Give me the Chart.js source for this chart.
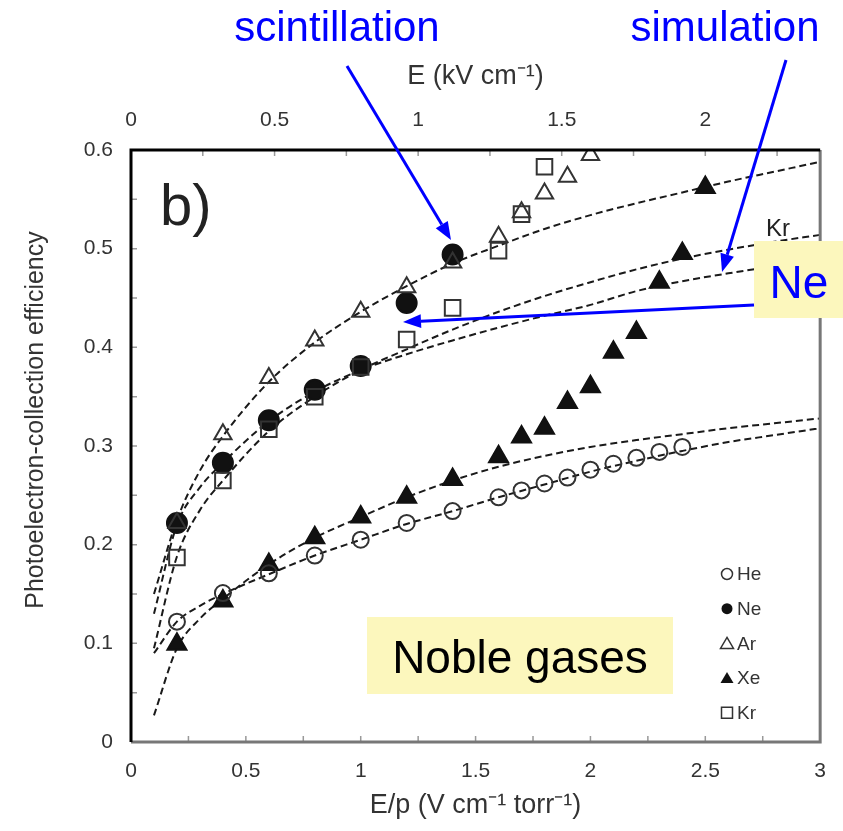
<!DOCTYPE html>
<html>
<head>
<meta charset="utf-8">
<script src="https://cdn.jsdelivr.net/npm/chart.js@4.4.0/dist/chart.umd.min.js"></script>
<style>
  body { margin: 0; background: #fff; }
  #wrap { width: 843px; height: 831px; }
</style>
</head>
<body>
<div id="wrap"><canvas id="myChart"></canvas></div>
<script>
// measured points (E/p in V cm-1 torr-1, efficiency)
const heX = [0.2, 0.4, 0.6, 0.8, 1.0, 1.2, 1.4, 1.6, 1.7, 1.8, 1.9, 2.0, 2.1, 2.2, 2.3, 2.4]
const heY = [0.122, 0.151, 0.171, 0.189, 0.205, 0.222, 0.234, 0.248, 0.255, 0.262, 0.268, 0.276, 0.282, 0.288, 0.294, 0.299]

const neX = [0.2, 0.4, 0.6, 0.8, 1.0, 1.2, 1.4]
const neY = [0.222, 0.283, 0.326, 0.357, 0.381, 0.445, 0.494]

const arX = [0.2, 0.4, 0.6, 0.8, 1.0, 1.2, 1.4, 1.6, 1.7, 1.8, 1.9, 2.0]
const arY = [0.222, 0.312, 0.369, 0.407, 0.436, 0.461, 0.486, 0.512, 0.537, 0.556, 0.573, 0.595]

const xeX = [0.2, 0.4, 0.6, 0.8, 1.0, 1.2, 1.4, 1.6, 1.7, 1.8, 1.9, 2.0, 2.1, 2.2, 2.3, 2.4, 2.5]
const xeY = [0.099, 0.143, 0.180, 0.207, 0.228, 0.248, 0.266, 0.289, 0.309, 0.318, 0.344, 0.360, 0.395, 0.415, 0.466, 0.495, 0.562]

const krX = [0.2, 0.4, 0.6, 0.8, 1.0, 1.2, 1.4, 1.6, 1.7, 1.8]
const krY = [0.187, 0.265, 0.317, 0.350, 0.380, 0.408, 0.440, 0.498, 0.535, 0.583]

// simulation curves (dashed)
const simX  = [0.1, 0.2, 0.3, 0.4, 0.6, 0.8, 1.0, 1.2, 1.4, 1.6, 1.8, 2.0, 2.2, 2.4, 2.6, 2.8, 3.0]
const arSim = [0.15, 0.225, 0.275, 0.31, 0.365, 0.405, 0.436, 0.462, 0.485, 0.503, 0.52, 0.534, 0.546, 0.557, 0.568, 0.578, 0.588]
const krSim = [0.095, 0.188, 0.235, 0.265, 0.315, 0.35, 0.377, 0.398, 0.418, 0.436, 0.452, 0.466, 0.479, 0.49, 0.499, 0.507, 0.514]
const neSim = [0.13, 0.22, 0.258, 0.283, 0.325, 0.355, 0.377, 0.393, 0.407, 0.42, 0.432, 0.443, 0.457, 0.467, 0.475, 0.482, 0.488]
const heSim = [0.09, 0.122, 0.138, 0.15, 0.17, 0.189, 0.205, 0.221, 0.234, 0.248, 0.261, 0.274, 0.285, 0.295, 0.304, 0.311, 0.318]
const xeSim = [0.027, 0.095, 0.125, 0.145, 0.18, 0.207, 0.228, 0.248, 0.265, 0.279, 0.29, 0.299, 0.306, 0.312, 0.318, 0.323, 0.328]

// axis ticks
const bottomTicks = [0, 0.5, 1, 1.5, 2, 2.5, 3]
const topTicks = [0, 0.5, 1, 1.5, 2]
const yTicks = [0, 0.1, 0.2, 0.3, 0.4, 0.5, 0.6]

const FONT = "'Liberation Sans', Arial, sans-serif"
const BLUE = '#0000ff'
const YELLOW = '#fcf7bd'

const pts = (xs, ys) => xs.map((x, i) => ({ x: x, y: ys[i] }))

const curve = (label, ys) => ({
    label: label,
    data: pts(simX, ys),
    showLine: true,
    pointRadius: 0,
    borderColor: '#1a1a1a',
    borderWidth: 2,
    borderDash: [7, 4],
    cubicInterpolationMode: 'monotone',
    order: 1
})

const markers = (label, xs, ys, style, radius, filled) => ({
    label: label,
    data: pts(xs, ys),
    showLine: false,
    pointStyle: style,
    pointRadius: radius,
    pointBackgroundColor: filled ? '#111' : 'rgba(0,0,0,0)',
    pointBorderColor: filled ? '#111' : '#333',
    pointBorderWidth: 2,
    order: 0
})

const arrow = (ctx, x1, y1, x2, y2) => {
    const ang = Math.atan2(y2 - y1, x2 - x1)
    const len = 18, half = 7
    const bx = x2 - len * Math.cos(ang), by = y2 - len * Math.sin(ang)
    ctx.beginPath()
    ctx.moveTo(x1, y1)
    ctx.lineTo(bx, by)
    ctx.stroke()
    ctx.beginPath()
    ctx.moveTo(x2, y2)
    ctx.lineTo(bx + half * Math.sin(ang), by - half * Math.cos(ang))
    ctx.lineTo(bx - half * Math.sin(ang), by + half * Math.cos(ang))
    ctx.closePath()
    ctx.fill()
}

const legendItems = [
    ['He', 'circle', false],
    ['Ne', 'circle', true],
    ['Ar', 'triangle', false],
    ['Xe', 'triangle', true],
    ['Kr', 'rect', false]
]

const decor = {
    id: 'decor',
    afterDraw(chart) {
        const { ctx, chartArea: a, scales } = chart
        ctx.save()

        // inward minor ticks
        ctx.strokeStyle = '#999'
        ctx.lineWidth = 1.5
        ctx.beginPath()
        for (let i = 1; i < 12; i++) {
            const px = scales.x.getPixelForValue(i * 0.25)
            ctx.moveTo(px, a.bottom); ctx.lineTo(px, a.bottom - 6)
        }
        for (let i = 1; i < 10; i++) {
            const px = scales.xTop.getPixelForValue(i * 0.25)
            ctx.moveTo(px, a.top); ctx.lineTo(px, a.top + 6)
        }
        for (let i = 1; i < 12; i++) {
            const py = scales.y.getPixelForValue(i * 0.05)
            ctx.moveTo(a.left, py); ctx.lineTo(a.left + 6, py)
        }
        ctx.stroke()

        // frame
        ctx.lineWidth = 3
        ctx.strokeStyle = '#777'
        ctx.beginPath()
        ctx.moveTo(a.right, a.top); ctx.lineTo(a.right, a.bottom); ctx.lineTo(a.left, a.bottom)
        ctx.stroke()
        ctx.strokeStyle = '#000'
        ctx.beginPath()
        ctx.moveTo(a.left, a.bottom); ctx.lineTo(a.left, a.top); ctx.lineTo(a.right, a.top)
        ctx.stroke()

        // y title
        ctx.save()
        ctx.translate(36, 420)
        ctx.rotate(-Math.PI / 2)
        ctx.fillStyle = '#333'
        ctx.font = '25px ' + FONT
        ctx.textAlign = 'center'
        ctx.textBaseline = 'middle'
        ctx.fillText('Photoelectron-collection efficiency', 0, 0)
        ctx.restore()

        // legend
        ctx.font = '19px ' + FONT
        ctx.textAlign = 'left'
        ctx.textBaseline = 'middle'
        legendItems.forEach((it, i) => {
            const cx = 727, cy = 574 + i * 34.7
            ctx.fillStyle = '#111'
            ctx.strokeStyle = '#333'
            ctx.lineWidth = 1.5
            ctx.beginPath()
            if (it[1] === 'circle') ctx.arc(cx, cy, 5.5, 0, Math.PI * 2)
            else if (it[1] === 'triangle') { ctx.moveTo(cx, cy - 6); ctx.lineTo(cx + 6.5, cy + 5); ctx.lineTo(cx - 6.5, cy + 5); ctx.closePath() }
            else ctx.rect(cx - 5.5, cy - 5.5, 11, 11)
            if (it[2]) ctx.fill()
            else ctx.stroke()
            ctx.fillStyle = '#333'
            ctx.fillText(it[0], cx + 10, cy + 1)
        })

        // b) and Kr labels
        ctx.fillStyle = '#222'
        ctx.textBaseline = 'alphabetic'
        ctx.font = '58px ' + FONT
        ctx.fillText('b)', 160, 225)
        ctx.font = '24px ' + FONT
        ctx.fillText('Kr', 766, 236)

        // yellow boxes
        ctx.fillStyle = YELLOW
        ctx.fillRect(754, 241, 89, 77)
        ctx.fillRect(367, 617, 306, 77)
        ctx.textAlign = 'center'
        ctx.font = '46px ' + FONT
        ctx.fillStyle = BLUE
        ctx.fillText('Ne', 799, 298)
        ctx.fillStyle = '#000'
        ctx.fillText('Noble gases', 520, 673)

        // blue callouts
        ctx.font = '42px ' + FONT
        ctx.fillStyle = BLUE
        ctx.fillText('scintillation', 337, 41)
        ctx.fillText('simulation', 725, 41)
        ctx.strokeStyle = BLUE
        ctx.lineWidth = 3
        arrow(ctx, 347, 66, 451, 240)
        arrow(ctx, 786, 60, 722, 272)
        arrow(ctx, 754, 305, 403, 322)

        ctx.restore()
    }
}

const data = {
    datasets: [
        curve('Ar sim', arSim),
        curve('Kr sim', krSim),
        curve('Ne sim', neSim),
        curve('He sim', heSim),
        curve('Xe sim', xeSim),
        markers('He', heX, heY, 'circle', 8, false),
        markers('Kr', krX, krY, 'rect', 11, false),
        markers('Ar', arX, arY, 'triangle', 10, false),
        markers('Xe', xeX, xeY, 'triangle', 11, true),
        markers('Ne', neX, neY, 'circle', 10, true)
    ]
}

const tickFont = { family: FONT, size: 21 }
const titleFont = { family: FONT, size: 27 }
const plain = v => String(v)

const config = {
    type: 'scatter',
    data: data,
    options: {
        responsive: true,
        maintainAspectRatio: false,
        animation: false,
        events: [],
        layout: { padding: { left: 0, right: 21, top: 0, bottom: 0 } },
        plugins: { legend: { display: false }, tooltip: { enabled: false } },
        scales: {
            x: {
                type: 'linear', position: 'bottom', min: 0, max: 3,
                afterBuildTicks: s => { s.ticks = bottomTicks.map(v => ({ value: v })) },
                ticks: { font: tickFont, color: '#333', padding: 17, callback: plain },
                grid: { display: false, drawTicks: false },
                border: { display: false },
                title: { display: true, text: 'E/p (V cm⁻¹ torr⁻¹)', font: titleFont, color: '#333', padding: { top: 0, bottom: 9 } },
                afterFit: s => { s.height = 89 }
            },
            xTop: {
                type: 'linear', position: 'top', min: 0, max: 2.4,
                afterBuildTicks: s => { s.ticks = topTicks.map(v => ({ value: v })) },
                ticks: { font: tickFont, color: '#333', padding: 17, callback: plain },
                grid: { display: false, drawTicks: false },
                border: { display: false },
                title: { display: true, text: 'E (kV cm⁻¹)', font: titleFont, color: '#333', padding: { top: 60, bottom: 0 } },
                afterFit: s => { s.height = 150 }
            },
            y: {
                type: 'linear', position: 'left', min: 0, max: 0.6,
                afterBuildTicks: s => { s.ticks = yTicks.map(v => ({ value: v })) },
                ticks: { font: tickFont, color: '#333', padding: 18, callback: plain },
                grid: { display: false, drawTicks: false },
                border: { display: false },
                afterFit: s => { s.width = 131 }
            }
        }
    },
    plugins: [decor]
}

const myChart = new Chart(document.getElementById('myChart'), config)
</script>
</body>
</html>
